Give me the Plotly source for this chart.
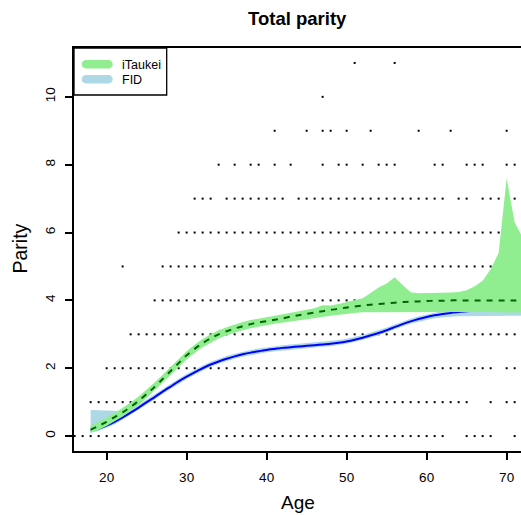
import plotly.graph_objects as go

# ---------------- data ----------------
ages_parity0 = [16,17,18,19,20,21,22,23,24,25,26,27,28,29,30,31,32,33,34,35,36,37,38,39,40,
                41,42,43,44,45,46,47,48,49,50,51,52,53,54,55,56,57,58,59,60,61,62,65,66,67,68,71]
ages_parity1 = [18,19,20,21,22,23,24,25,26,27,28,29,30,31,32,33,34,35,36,37,38,39,40,41,42,
                43,44,45,46,47,48,49,50,51,52,53,54,55,56,57,58,59,60,61,62,63,64,65,68,70,71]
ages_parity2 = [20,21,22,23,24,25,26,27,28,29,30,31,32,33,34,35,36,37,38,39,40,41,42,43,44,
                45,46,47,48,49,50,51,52,53,54,55,56,57,58,59,60,61,62,63,64,65,66,67,68,70,71]
ages_parity3 = [23,24,25,26,27,28,29,30,31,32,33,34,35,36,37,38,39,40,41,42,43,44,45,46,47,
                48,49,50,51,52,53,54,55,56,57,58,59,60,61,62,63,64,65,66,67,68,69,70,71]
ages_parity4 = [26,27,28,29,30,31,32,33,34,35,36,37,38,39,40,41,42,43,44,45,46,47,48,49,50,
                51,52,53,54,55,56,57,58,59,60,61,62,63,64,65,66,67,68,69,70,71]
ages_parity5 = [22,27,28,29,30,31,32,33,34,35,36,37,38,39,40,41,42,43,44,45,46,47,48,49,50,
                51,52,53,54,55,56,57,58,59,60,61,62,63,64,65,66,67,68,69,70,71]
ages_parity6 = [29,30,31,32,33,34,35,36,37,38,39,40,41,42,43,44,45,46,47,48,49,50,
                51,52,53,54,55,56,57,58,59,60,61,62,63,64,65,66,67,68,69,70,71]
ages_parity7 = [31,32,33,35,36,37,38,39,40,41,42,44,45,46,47,48,49,50,51,52,53,54,55,56,57,
                58,59,60,61,62,64,65,67,68,69,70,71]
ages_parity8 = [34,36,38,39,41,43,47,49,50,52,54,55,56,61,62,65,66,67,70,71]
ages_parity9 = [41,45,47,48,50,53,59,63,70]
ages_parity10 = [47]
ages_parity11 = [51,56]

band_ages = [18,19,20,21,22,23,24,25,26,27,28,29,30,31,32,33,34,35,36,37,38,39,40,41,42,43,44,45,
             46,47,48,49,50,51,52,53,54,55,56,57,58,59,60,61,62,63,64,65,66,67,68,69,70,71,72]

itaukei_mean = [0.19,0.30,0.42,0.56,0.70,0.86,1.04,1.24,1.45,1.68,1.92,2.15,2.38,2.57,2.74,2.88,
                3.00,3.09,3.17,3.24,3.30,3.35,3.39,3.43,3.47,3.52,3.56,3.60,3.64,3.68,3.72,3.75,
                3.79,3.82,3.85,3.87,3.89,3.91,3.93,3.95,3.96,3.97,3.98,3.99,3.99,4.00,4.00,4.00,
                4.00,4.00,4.00,4.00,4.00,4.00,4.00]
itaukei_upper = [0.31,0.42,0.54,0.68,0.83,0.99,1.17,1.37,1.58,1.81,2.05,2.28,2.50,2.69,2.86,3.00,
                 3.12,3.21,3.29,3.36,3.42,3.47,3.51,3.55,3.59,3.64,3.69,3.73,3.77,3.86,3.85,3.89,
                 3.94,3.99,4.06,4.22,4.38,4.50,4.68,4.45,4.24,4.21,4.21,4.21,4.22,4.23,4.25,4.30,
                 4.42,4.58,4.92,5.40,7.60,6.30,5.85]
itaukei_lower = [0.10,0.19,0.30,0.44,0.58,0.74,0.92,1.12,1.33,1.56,1.80,2.03,2.26,2.45,2.62,2.76,
                 2.88,2.97,3.05,3.12,3.18,3.23,3.27,3.31,3.35,3.38,3.41,3.44,3.48,3.51,3.55,3.58,
                 3.61,3.63,3.65,3.66,3.67,3.67,3.67,3.67,3.67,3.67,3.67,3.67,3.67,3.67,3.67,3.66,
                 3.66,3.66,3.66,3.65,3.65,3.64,3.64]

fid_mean = [0.16,0.22,0.31,0.42,0.55,0.69,0.84,1.00,1.15,1.31,1.46,1.61,1.75,1.88,2.00,2.11,
            2.20,2.28,2.35,2.41,2.46,2.50,2.54,2.57,2.60,2.62,2.64,2.66,2.68,2.70,2.72,2.75,
            2.79,2.84,2.90,2.97,3.04,3.12,3.21,3.30,3.38,3.45,3.51,3.56,3.60,3.63,3.66,3.68,
            3.70,3.72,3.73,3.75,3.76,3.77,3.78]
fid_upper = [0.77,0.76,0.74,0.73,0.74,0.78,0.92,1.08,1.23,1.39,1.54,1.69,1.83,1.96,2.08,2.19,
             2.28,2.36,2.43,2.49,2.54,2.58,2.62,2.65,2.68,2.70,2.72,2.74,2.76,2.78,2.80,2.83,
             2.87,2.92,2.98,3.05,3.12,3.20,3.29,3.38,3.46,3.53,3.59,3.65,3.69,3.72,3.75,3.77,
             3.79,3.81,3.82,3.84,3.85,3.86,3.87]
fid_lower = [0.10,0.15,0.24,0.35,0.48,0.62,0.77,0.93,1.08,1.24,1.39,1.54,1.68,1.81,1.93,2.04,
             2.13,2.21,2.28,2.34,2.39,2.43,2.47,2.50,2.53,2.55,2.57,2.59,2.61,2.63,2.65,2.68,
             2.72,2.77,2.83,2.90,2.97,3.05,3.14,3.23,3.31,3.37,3.42,3.47,3.50,3.52,3.53,3.53,
             3.53,3.53,3.53,3.54,3.54,3.55,3.55]

x_ticks = [20, 30, 40, 50, 60, 70]
y_ticks = [0, 2, 4, 6, 8, 10]
legend_labels = ["iTaukei", "FID"]
title_text = "Total parity"
x_label = "Age"
y_label = "Parity"

# ---------------- layout geometry ----------------
W, H = 521, 515
ML, MR, MT, MB = 74, 0, 48, 64
PW, PH = W - ML - MR, H - MT - MB
X_RANGE = [15.92, 15.92 + PW / 8.0]
Y_RANGE = [-0.44, 11.44]

def px(xp):
    return (xp - ML) / PW

def py(yp):
    return (H - MB - yp) / PH

FONT = "Liberation Sans, Arial, Helvetica, sans-serif"
GREEN = "#90EE90"
LBLUE = "#ADD8E6"

fig = go.Figure()

# points
pts_x, pts_y = [], []
for parity, ages in enumerate([ages_parity0, ages_parity1, ages_parity2, ages_parity3,
                               ages_parity4, ages_parity5, ages_parity6, ages_parity7,
                               ages_parity8, ages_parity9, ages_parity10, ages_parity11]):
    pts_x += ages
    pts_y += [parity] * len(ages)
fig.add_trace(go.Scatter(x=pts_x, y=pts_y, mode="markers",
                         marker=dict(symbol="square", size=2, color="black", line=dict(width=0)),
                         showlegend=False, hoverinfo="skip"))

# FID band + line
fig.add_trace(go.Scatter(x=band_ages + band_ages[::-1], y=fid_upper + fid_lower[::-1],
                         fill="toself", fillcolor=LBLUE, line=dict(width=0), mode="lines",
                         showlegend=False, hoverinfo="skip"))
fig.add_trace(go.Scatter(x=band_ages, y=fid_mean, mode="lines",
                         line=dict(color="#0000FF", width=2, shape="spline", smoothing=0.6),
                         showlegend=False))

# iTaukei band + dashed line
fig.add_trace(go.Scatter(x=band_ages + band_ages[::-1], y=itaukei_upper + itaukei_lower[::-1],
                         fill="toself", fillcolor=GREEN, line=dict(width=0), mode="lines",
                         showlegend=False, hoverinfo="skip"))
fig.add_trace(go.Scatter(x=band_ages, y=itaukei_mean, mode="lines",
                         line=dict(color="#006400", width=2, dash="6px,6px", shape="spline",
                                   smoothing=0.6),
                         showlegend=False))

# ---------------- legend (drawn manually, R-style) ----------------
shapes = []
shapes.append(dict(type="rect", xref="paper", yref="paper",
                   x0=px(74), x1=px(166.7), y0=py(95), y1=py(48),
                   line=dict(color="black", width=1.3), fillcolor="white", layer="above"))

def capsule(x1, x2, yc, r):
    k = 0.5523 * r
    pts = [("M", [(x1, yc - r)]), ("L", [(x2, yc - r)]),
           ("C", [(x2 + k, yc - r), (x2 + r, yc - k), (x2 + r, yc)]),
           ("C", [(x2 + r, yc + k), (x2 + k, yc + r), (x2, yc + r)]),
           ("L", [(x1, yc + r)]),
           ("C", [(x1 - k, yc + r), (x1 - r, yc + k), (x1 - r, yc)]),
           ("C", [(x1 - r, yc - k), (x1 - k, yc - r), (x1, yc - r)])]
    s = ""
    for cmd, ps in pts:
        s += cmd + " " + " ".join(f"{px(a):.5f},{py(b):.5f}" for a, b in ps) + " "
    return s + "Z"

legend_rows = [(64.3, GREEN), (79.3, LBLUE)]
for (yc, col), lab in zip(legend_rows, legend_labels):
    shapes.append(dict(type="path", xref="paper", yref="paper", path=capsule(86, 108.5, yc, 4.2),
                       fillcolor=col, line=dict(width=0), layer="above"))

annotations = []
for (yc, col), lab in zip(legend_rows, legend_labels):
    annotations.append(dict(text=lab, xref="paper", yref="paper", x=px(120.3), y=py(yc + 0.5),
                            xanchor="left", yanchor="middle", showarrow=False,
                            font=dict(family=FONT, size=12.5, color="black")))

annotations.append(dict(text="<b>" + title_text + "</b>", xref="paper", yref="paper",
                        x=px(297.8), y=py(18.5), xanchor="center", yanchor="middle",
                        showarrow=False, font=dict(family=FONT, size=18.5, color="black")))
annotations.append(dict(text=x_label, xref="paper", yref="paper", x=px(297.5), y=py(503),
                        xanchor="center", yanchor="middle", showarrow=False,
                        font=dict(family=FONT, size=19, color="black")))
annotations.append(dict(text=y_label, xref="paper", yref="paper", x=px(19.5), y=py(249),
                        xanchor="center", yanchor="middle", showarrow=False, textangle=-90,
                        font=dict(family=FONT, size=19.5, color="black")))

fig.update_layout(
    width=W, height=H,
    margin=dict(l=ML, r=MR, t=MT, b=MB, pad=0),
    paper_bgcolor="white", plot_bgcolor="white",
    showlegend=False,
    shapes=shapes, annotations=annotations,
    xaxis=dict(range=X_RANGE, tickmode="array", tickvals=x_ticks,
               ticktext=[str(v) for v in x_ticks],
               showgrid=False, zeroline=False, showline=True, linecolor="black", linewidth=1.6,
               mirror=True, ticks="outside", ticklen=7, tickwidth=1.5, tickcolor="black",
               ticklabelstandoff=6,
               tickfont=dict(family=FONT, size=13.5, color="black")),
    yaxis=dict(range=Y_RANGE, tickmode="array", tickvals=y_ticks,
               ticktext=[str(v) for v in y_ticks],
               showgrid=False, zeroline=False, showline=True, linecolor="black", linewidth=1.6,
               mirror=False, ticks="outside", ticklen=7, tickwidth=1.5, tickcolor="black",
               tickangle=-90, ticklabelstandoff=5,
               tickfont=dict(family=FONT, size=13.5, color="black")),
)

fig.write_html("out.html")
